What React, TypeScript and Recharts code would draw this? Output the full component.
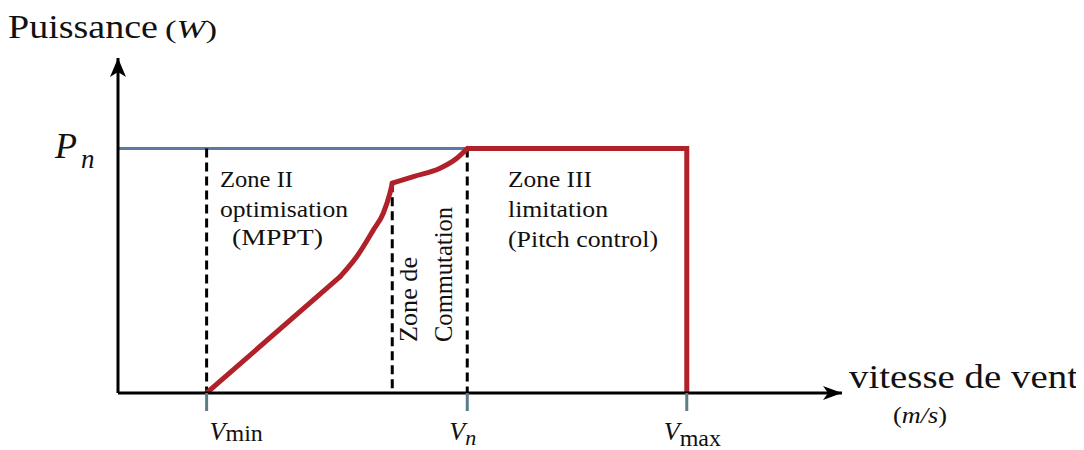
import React from "react";
import {
  LineChart,
  Line,
  XAxis,
  YAxis,
  ReferenceLine,
  ReferenceDot,
} from "recharts";

// wind speed (m/s, schematic) and power (per unit of Pn)
const V_MIN = 3.06;
const V_COMM = 9.47;
const V_N = 12.06;
const V_MAX = 19.64;
const P_N = 1;

// MPPT branch, then commutation branch, then the limited part
const mpptSpeed = [3.06, 7.67, 8.24, 8.82, 9.16, 9.39, 9.47];
const mpptPower = [0, 0.476, 0.557, 0.667, 0.735, 0.817, 0.858];
const commSpeed = [9.47, 10.2, 11.12, 11.7, 12.06];
const commPower = [0.858, 0.885, 0.919, 0.96, 1];
const limitSpeed = [12.06, 19.64, 19.64];
const limitPower = [1, 1, 0];

const nominalSpeed = [0, V_N];
const nominalPower = [P_N, P_N];

const tickSpeeds = [V_MIN, V_N, V_MAX];
const tickSubs = ["min", "n", "max"];

const X_MAX = 25;
const Y_MAX = 1.37;

const toRows = (xs: number[], ys: number[]) => xs.map((v, i) => ({ v, p: ys[i] }));
const mppt = toRows(mpptSpeed, mpptPower);
const mpptStraight = mppt.slice(0, 2);
const mpptBend = mppt.slice(1);
const comm = toRows(commSpeed, commPower);
const limit = toRows(limitSpeed, limitPower);
const nominal = toRows(nominalSpeed, nominalPower);

const SERIF = "'Liberation Serif', 'Times New Roman', Times, serif";
const serif = { fontFamily: SERIF };
const RED = "#b0212a";
const BLUE = "#5a7aa2";
const TICK = "#5d7d86";

function SpeedTick(props: any) {
  const { x, y, payload } = props;
  const i = tickSpeeds.indexOf(payload.value);
  const sub = tickSubs[i];
  const italicSub = sub === "n";
  const startX = i === 0 ? x + 3 : i === 1 ? x - 18 : x - 23;
  const subDy = i === 0 ? 1 : i === 1 ? 5 : 6;
  return (
    <text x={startX} y={y + 27} style={serif} fill="#111">
      <tspan fontSize={26} fontStyle="italic">V</tspan>
      <tspan fontSize={italicSub ? 22 : 24} fontStyle={italicSub ? "italic" : "normal"} dy={subDy}>
        {sub}
      </tspan>
    </text>
  );
}

function ArrowRight(props: any) {
  const { cx, cy } = props;
  return <path d={`M${cx},${cy} L${cx - 19},${cy - 7} L${cx - 14},${cy} L${cx - 19},${cy + 7} Z`} fill="#000" />;
}

function ArrowUp(props: any) {
  const { cx, cy } = props;
  return <path d={`M${cx},${cy} L${cx - 8},${cy + 19} L${cx},${cy + 14} L${cx + 8},${cy + 19} Z`} fill="#000" />;
}

function Annotations() {
  const fit = { lengthAdjust: "spacingAndGlyphs" as const };
  return (
    <svg
      width={1076}
      height={442}
      style={{ position: "absolute", left: 0, top: 0, pointerEvents: "none", fontFamily: SERIF }}
      fill="#111"
    >
      <text x={0} y={30} style={serif} fontSize={34} textLength={150} {...fit}>
        Puissance
      </text>
      <text x={157} y={30} style={serif} fontSize={25} textLength={52} {...fit}>
        (<tspan fontStyle="italic">W</tspan>)
      </text>

      <text x={47} y={150} style={serif} fontSize={36} fontStyle="italic">P</text>
      <text x={73} y={160} style={serif} fontSize={27} fontStyle="italic">n</text>

      <text x={212} y={179} style={serif} fontSize={23} textLength={73} {...fit}>Zone II</text>
      <text x={212} y={209} style={serif} fontSize={23} textLength={128} {...fit}>optimisation</text>
      <text x={224} y={237} style={serif} fontSize={23} textLength={91} {...fit}>(MPPT)</text>

      <text x={500} y={179} style={serif} fontSize={23} textLength={84} {...fit}>Zone III</text>
      <text x={500} y={209} style={serif} fontSize={23} textLength={100} {...fit}>limitation</text>
      <text x={500} y={239} style={serif} fontSize={23} textLength={150} {...fit}>(Pitch control)</text>

      <text transform="translate(409,334) rotate(-90)" style={serif} fontSize={25} textLength={85} {...fit}>
        Zone  de
      </text>
      <text transform="translate(444,334) rotate(-90)" style={serif} fontSize={25} textLength={135} {...fit}>
        Commutation
      </text>

      <text x={841} y={380} style={serif} fontSize={34} textLength={229} {...fit}>
        vitesse de vent
      </text>
      <text x={885} y={415} style={serif} fontSize={23} textLength={54} {...fit}>
        (<tspan fontStyle="italic">m/s</tspan>)
      </text>
    </svg>
  );
}

const dashStyle = { stroke: "#000", strokeWidth: 3, strokeDasharray: "9 5" };
const redStyle = {
  dataKey: "p",
  stroke: RED,
  strokeWidth: 5,
  dot: false,
  isAnimationActive: false,
};

export default function App() {
  return (
    <div style={{ position: "relative", width: 1076, height: 442, background: "#fff" }}>
      <LineChart width={1076} height={442} margin={{ top: 50, right: 242, bottom: 0, left: 100 }}>
        <XAxis
          type="number"
          dataKey="v"
          domain={[0, X_MAX]}
          allowDataOverflow
          ticks={tickSpeeds}
          interval={0}
          height={57}
          tickSize={18}
          axisLine={{ stroke: "#000", strokeWidth: 3 }}
          tickLine={{ stroke: TICK, strokeWidth: 3 }}
          tick={<SpeedTick />}
        />
        <YAxis
          type="number"
          dataKey="p"
          domain={[0, Y_MAX]}
          allowDataOverflow
          width={10}
          tick={false}
          tickLine={false}
          axisLine={{ stroke: "#000", strokeWidth: 3 }}
        />
        <Line
          data={nominal}
          dataKey="p"
          type="linear"
          stroke={BLUE}
          strokeWidth={3}
          dot={false}
          isAnimationActive={false}
        />
        <ReferenceLine segment={[{ x: V_MIN, y: P_N }, { x: V_MIN, y: 0 }]} {...dashStyle} />
        <ReferenceLine segment={[{ x: V_COMM, y: commPower[0] }, { x: V_COMM, y: 0 }]} {...dashStyle} />
        <ReferenceLine segment={[{ x: V_N, y: P_N }, { x: V_N, y: 0 }]} {...dashStyle} />
        <Line data={mpptStraight} type="linear" strokeLinecap="round" {...redStyle} />
        <Line data={mpptBend} type="monotone" strokeLinecap="round" {...redStyle} />
        <Line data={comm} type="monotone" strokeLinecap="round" {...redStyle} />
        <Line data={limit} type="linear" strokeLinejoin="miter" {...redStyle} />
        <ReferenceDot x={X_MAX} y={0} r={0} ifOverflow="visible" shape={<ArrowRight />} />
        <ReferenceDot x={0} y={Y_MAX} r={0} ifOverflow="visible" shape={<ArrowUp />} />
      </LineChart>
      <Annotations />
    </div>
  );
}
